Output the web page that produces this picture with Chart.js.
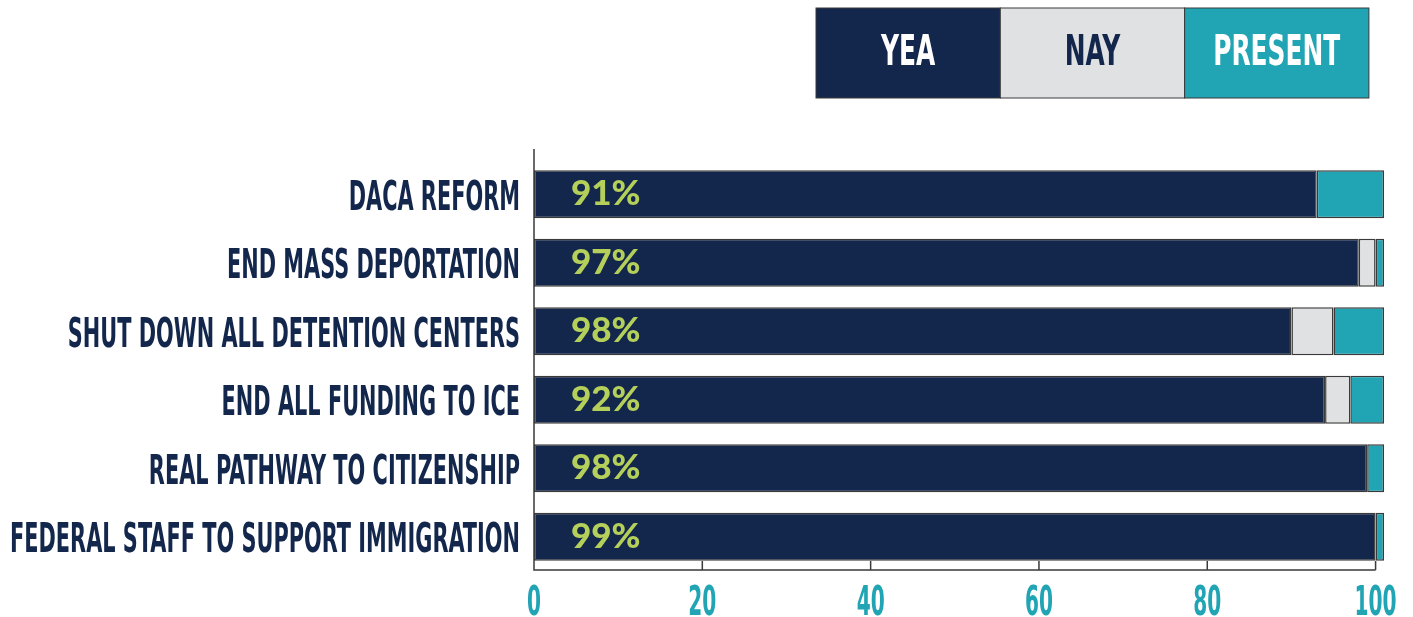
<!DOCTYPE html>
<html>
<head>
<meta charset="utf-8">
<title>Immigration votes</title>
<script src="https://cdn.jsdelivr.net/npm/chart.js@4.4.1/dist/chart.umd.min.js"></script>
<style>
  html, body { margin: 0; padding: 0; background: #fff; }
</style>
</head>
<body>
<canvas id="votes" width="1413" height="617"></canvas>
<script>
// values
const categories = [
  'DACA REFORM',
  'END MASS DEPORTATION',
  'SHUT DOWN ALL DETENTION CENTERS',
  'END ALL FUNDING TO ICE',
  'REAL PATHWAY TO CITIZENSHIP',
  'FEDERAL STAFF TO SUPPORT IMMIGRATION'
];
const yea = [93, 98, 90, 94, 99, 100];
const nay = [0, 2, 5, 3, 0, 0];
const present = [8, 1, 6, 4, 2, 1];
const yeaLabels = ['91%', '97%', '98%', '92%', '98%', '99%'];
const xTicks = [0, 20, 40, 60, 80, 100];
const seriesNames = ['YEA', 'NAY', 'PRESENT'];

const NAVY = '#13264b';
const GREY = '#e0e1e3';
const TEAL = '#21a4b3';
const LIME = '#b4d05a';
const EDGE = '#3a3a3a';
const NARROW = '"Liberation Sans Narrow", "DejaVu Sans Condensed", "DejaVu Sans", sans-serif';

// horizontal squeeze so a wide font looks like the condensed one in the picture
function squeezeFor(ctx, font, refText, refWidth) {
  ctx.font = font;
  return refWidth / ctx.measureText(refText).width;
}

function drawSqueezed(ctx, text, x, y, align, sx) {
  ctx.save();
  ctx.translate(x, y);
  ctx.scale(sx, 1);
  ctx.textAlign = align;
  ctx.textBaseline = 'alphabetic';
  ctx.fillText(text, 0, 0);
  ctx.restore();
}

const decorations = {
  id: 'decorations',
  afterDraw(chart) {
    const ctx = chart.ctx;
    const xs = chart.scales.x;
    const ys = chart.scales.y;
    const area = chart.chartArea;
    const x0 = xs.getPixelForValue(0);
    const x100 = xs.getPixelForValue(100);

    // axes
    ctx.save();
    ctx.strokeStyle = EDGE;
    ctx.lineWidth = 1.5;
    ctx.beginPath();
    ctx.moveTo(x0, area.top - 11);
    ctx.lineTo(x0, area.bottom - 1);
    ctx.lineTo(x100, area.bottom - 1);
    xTicks.forEach(v => {
      const px = xs.getPixelForValue(v);
      ctx.moveTo(px, area.bottom - 1);
      ctx.lineTo(px, area.bottom - 10);
    });
    ctx.stroke();
    ctx.restore();

    // category labels
    const labFont = 'bold 41px ' + NARROW;
    const labSx = squeezeFor(ctx, labFont, categories[5], 510);
    ctx.fillStyle = NAVY;
    categories.forEach((c, i) => {
      drawSqueezed(ctx, c, x0 - 14, ys.getPixelForValue(i) + 15.5, 'right', labSx);
    });

    // yea percentages inside bars
    ctx.font = '900 35px Lato, "Liberation Sans", Arial, sans-serif';
    ctx.fillStyle = LIME;
    ctx.textAlign = 'left';
    ctx.textBaseline = 'alphabetic';
    yeaLabels.forEach((t, i) => {
      ctx.fillText(t, x0 + 37, ys.getPixelForValue(i) + 11);
    });

    // x tick labels
    const tickFont = 'bold 40px ' + NARROW;
    const tickSx = squeezeFor(ctx, tickFont, '100', 42);
    ctx.fillStyle = TEAL;
    xTicks.forEach(v => {
      drawSqueezed(ctx, String(v), xs.getPixelForValue(v), area.bottom + 44, 'center', tickSx);
    });

    // legend boxes
    const legLeft = 816, legTop = 8, legW = 184.3, legH = 90;
    const legFont = 'bold 42px ' + NARROW;
    const legSx = squeezeFor(ctx, legFont, 'PRESENT', 127);
    const textColors = ['#ffffff', NAVY, '#ffffff'];
    chart.data.datasets.forEach((ds, i) => {
      const bx = legLeft + i * legW;
      ctx.fillStyle = ds.backgroundColor;
      ctx.fillRect(bx, legTop, legW, legH);
      ctx.strokeStyle = EDGE;
      ctx.lineWidth = 1;
      ctx.strokeRect(bx, legTop, legW, legH);
      ctx.fillStyle = textColors[i];
      drawSqueezed(ctx, ds.label, bx + legW / 2, legTop + 57, 'center', legSx);
    });
  }
};

const barStyle = {
  borderColor: EDGE,
  borderWidth: 1.5,
  borderSkipped: false,
  barPercentage: 0.7,
  categoryPercentage: 1
};

new Chart(document.getElementById('votes').getContext('2d'), {
  type: 'bar',
  data: {
    labels: categories,
    datasets: [
      Object.assign({ label: seriesNames[0], data: yea, backgroundColor: NAVY }, barStyle),
      Object.assign({ label: seriesNames[1], data: nay, backgroundColor: GREY }, barStyle),
      Object.assign({ label: seriesNames[2], data: present, backgroundColor: TEAL }, barStyle)
    ]
  },
  options: {
    indexAxis: 'y',
    responsive: false,
    animation: false,
    layout: { padding: { left: 534, right: 29, top: 160, bottom: 46 } },
    plugins: { legend: { display: false }, tooltip: { enabled: false } },
    scales: {
      x: { stacked: true, min: 0, max: 101, display: false, ticks: { stepSize: 20 } },
      y: { stacked: true, display: false }
    }
  },
  plugins: [decorations]
});
</script>
</body>
</html>
